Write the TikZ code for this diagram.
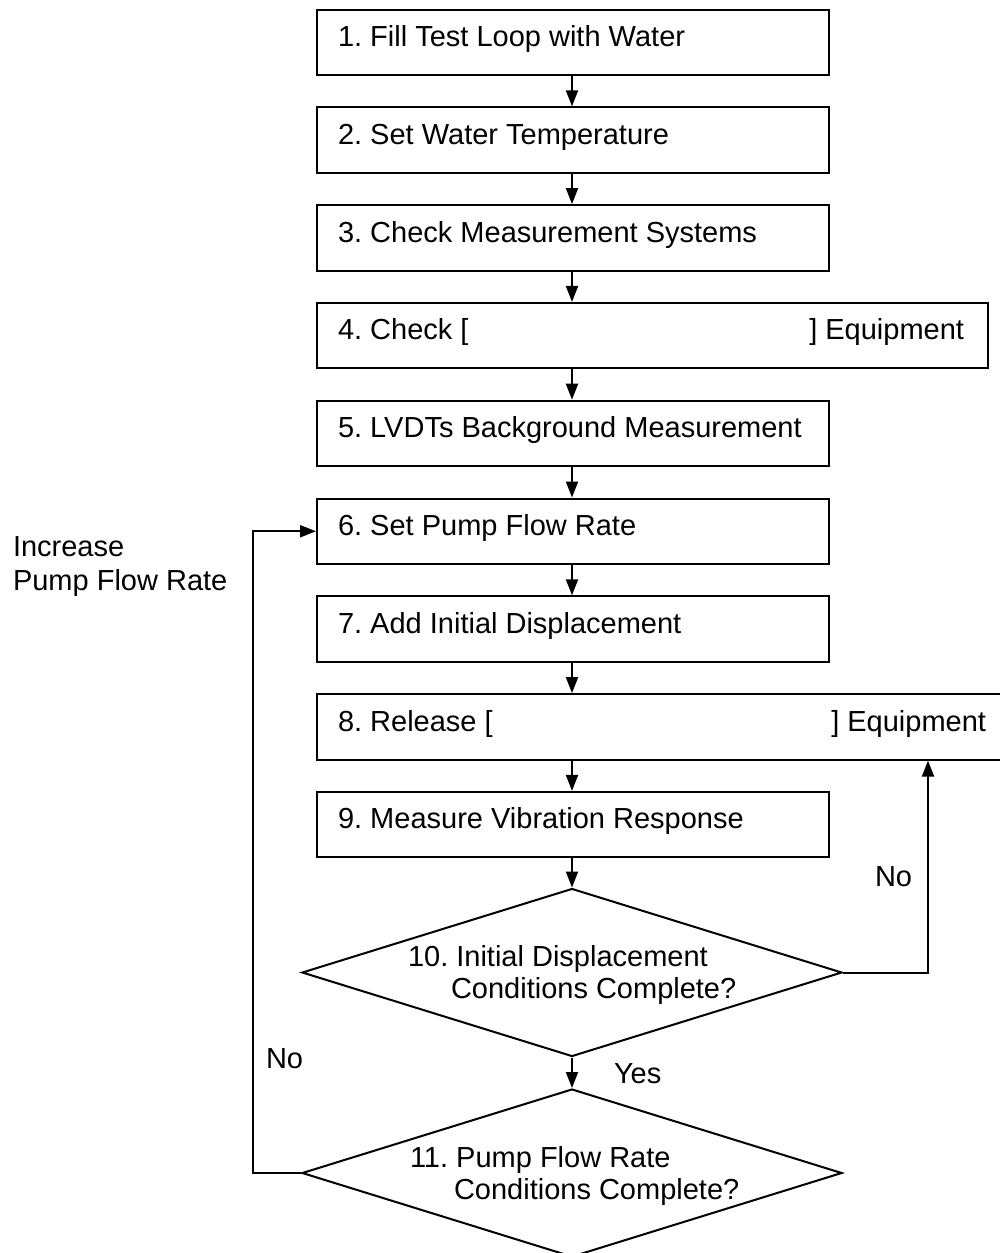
\documentclass[tikz,border=0pt]{standalone}
\usepackage{fontspec}
\setmainfont{Liberation Sans}
\usetikzlibrary{arrows.meta,shapes.geometric}
\frenchspacing
\begin{document}
\begin{tikzpicture}[x=0.5pt,y=-0.5pt,
  font=\fontsize{14.5}{17}\selectfont\frenchspacing,
  line width=1pt,
  stepbox/.style={draw,rectangle,inner sep=0pt,minimum height=32.75pt},
  decision/.style={draw,diamond,inner sep=0pt,minimum width=270pt,minimum height=84pt},
  txt/.style={inner sep=0pt,anchor=base west},
  txtr/.style={inner sep=0pt,anchor=base east},
  arr/.style={-{Triangle[length=8pt,width=6pt]}}
]
\useasboundingbox (0,0) rectangle (1000,1253);
% boxes
\node[stepbox,minimum width=256pt] (b1) at (573,42.25) {};
\node[stepbox,minimum width=256pt] (b2) at (573,140.05) {};
\node[stepbox,minimum width=256pt] (b3) at (573,237.85) {};
\node[stepbox,minimum width=335.5pt] (b4) at (652.5,335.65) {};
\node[stepbox,minimum width=256pt] (b5) at (573,433.45) {};
\node[stepbox,minimum width=256pt] (b6) at (573,531.25) {};
\node[stepbox,minimum width=256pt] (b7) at (573,629.05) {};
\node[stepbox,minimum width=346.5pt] (b8) at (663.5,726.85) {};
\node[stepbox,minimum width=256pt] (b9) at (573,824.65) {};
% box texts
\node[txt] (t1) at (337,46.5) {1. Fill Test Loop with Water};
\node[txt] (t2) at (337,144.3) {2. Set Water Temperature};
\node[txt] (t3) at (337,242.1) {3. Check Measurement Systems};
\node[txt] (t4a) at (337,339.9) {4. Check [};
\node[txtr] (t4b) at (965,339.9) {] Equipment};
\node[txt] (t5) at (337,437.7) {5. LVDTs Background Measurement};
\node[txt] (t6) at (337,535.5) {6. Set Pump Flow Rate};
\node[txt] (t7) at (337,633.3) {7. Add Initial Displacement};
\node[txt] (t8a) at (337,731.1) {8. Release [};
\node[txtr] (t8b) at (987,731.1) {] Equipment};
\node[txt] (t9) at (337,828.9) {9. Measure Vibration Response};
% decisions
\node[decision] (d10) at (572,972.5) {};
\node[decision] (d11) at (572,1173) {};
\node[txt] (t10a) at (407,966) {10. Initial Displacement};
\node[txt] (t10b) at (450,998) {Conditions Complete?};
\node[txt] (t11a) at (409,1167) {11. Pump Flow Rate};
\node[txt] (t11b) at (453,1199) {Conditions Complete?};
% labels
\node[txt] (lno1) at (874,886) {No};
\node[txt] (lno2) at (265,1068) {No};
\node[txt] (lyes) at (613,1083) {Yes};
\node[txt] (linc1) at (12,556) {Increase};
\node[txt] (linc2) at (12,590) {Pump Flow Rate};
% connectors
\coordinate (ax) at (572,0);
\draw[arr] (b1.south -| ax) -- (b2.north -| ax);
\draw[arr] (b2.south -| ax) -- (b3.north -| ax);
\draw[arr] (b3.south -| ax) -- (b4.north -| ax);
\draw[arr] (b4.south -| ax) -- (b5.north -| ax);
\draw[arr] (b5.south -| ax) -- (b6.north -| ax);
\draw[arr] (b6.south -| ax) -- (b7.north -| ax);
\draw[arr] (b7.south -| ax) -- (b8.north -| ax);
\draw[arr] (b8.south -| ax) -- (b9.north -| ax);
\draw[arr] (b9.south -| ax) -- (d10.north);
\draw[arr] (d10.south) -- (d11.north);
\coordinate (rx) at (928,0);
\draw[arr] (d10.east) -| (b8.south -| rx);
\coordinate (lx) at (253,0);
\draw[arr] (d11.west) -- (d11.west -| lx) |- (b6.west);
\end{tikzpicture}
\end{document}
